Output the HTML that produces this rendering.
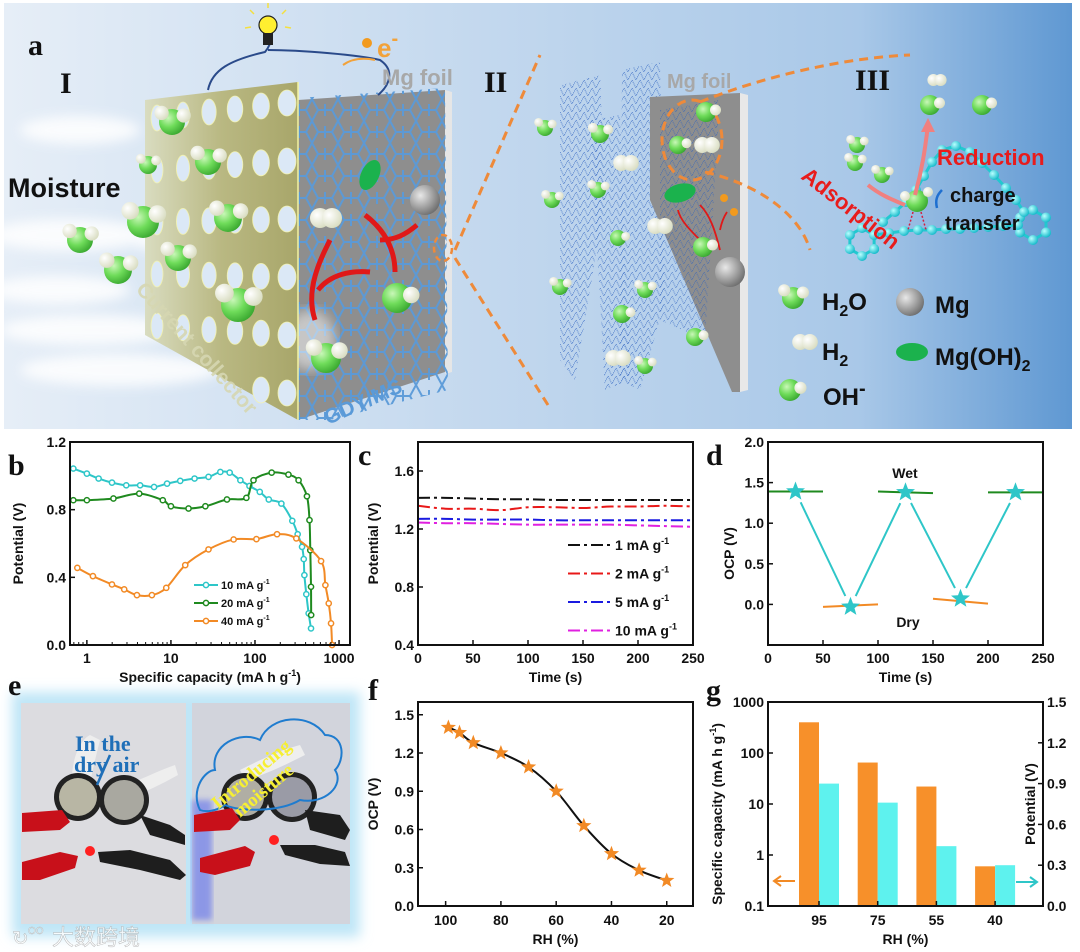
<!DOCTYPE html>
<html><head><meta charset="utf-8">
<style>
html,body{margin:0;padding:0;background:#fff;}
svg{display:block;font-family:"Liberation Sans",sans-serif;}
.tk{font-weight:bold;font-size:14px;fill:#111;}
.ttl{font-weight:bold;font-size:14px;fill:#111;}
.pl{font-family:"Liberation Serif",serif;font-weight:bold;font-size:30px;fill:#111;}
</style></head>
<body>
<svg id="fig" width="1080" height="952" viewBox="0 0 1080 952" xmlns="http://www.w3.org/2000/svg">
<defs>
<linearGradient id="bgA" x1="0" x2="1" y1="0" y2="0">
<stop offset="0" stop-color="#e6eef7"/><stop offset="0.45" stop-color="#c3d8ee"/><stop offset="0.8" stop-color="#a9c8e8"/><stop offset="1" stop-color="#5f98d2"/></linearGradient>
<linearGradient id="olive" x1="0" x2="1"><stop offset="0" stop-color="#d9dcc0"/><stop offset="0.5" stop-color="#b9b882"/><stop offset="1" stop-color="#a8a66a"/></linearGradient>
<radialGradient id="gSph" cx="0.35" cy="0.35" r="0.7"><stop offset="0" stop-color="#c9f7b8"/><stop offset="0.5" stop-color="#6fdc5a"/><stop offset="1" stop-color="#3aa830"/></radialGradient>
<radialGradient id="wSph" cx="0.35" cy="0.35" r="0.7"><stop offset="0" stop-color="#ffffff"/><stop offset="1" stop-color="#d8dcc0"/></radialGradient>
<radialGradient id="mgSph" cx="0.35" cy="0.35" r="0.7"><stop offset="0" stop-color="#e8e8e8"/><stop offset="1" stop-color="#6e6e6e"/></radialGradient>
<radialGradient id="cySph" cx="0.35" cy="0.35" r="0.7"><stop offset="0" stop-color="#b8ffff"/><stop offset="1" stop-color="#10b8c8"/></radialGradient>
<pattern id="hexmesh" width="26" height="22" patternUnits="userSpaceOnUse">
<path d="M0 11 L6 0 L20 0 L26 11 L20 22 L6 22 Z M13 0 L13 6 M13 22 L13 16" fill="none" stroke="#5a9ad8" stroke-width="2"/></pattern>
<pattern id="dotmesh" width="8" height="8" patternUnits="userSpaceOnUse">
<path d="M0 0 L4 8 L8 0" fill="none" stroke="#2a5fc0" stroke-width="0.8" stroke-dasharray="1 1"/></pattern>
<filter id="blur6"><feGaussianBlur stdDeviation="6"/></filter>
<filter id="blur3"><feGaussianBlur stdDeviation="3"/></filter>
</defs>

<!-- ================= PANEL A ================= -->
<g>
<rect x="4" y="3" width="1068" height="426" fill="url(#bgA)"/>
<g filter="url(#blur6)" opacity="0.85">
<ellipse cx="80" cy="130" rx="60" ry="14" fill="#fff"/>
<ellipse cx="70" cy="235" rx="80" ry="16" fill="#fff"/>
<ellipse cx="60" cy="290" rx="70" ry="14" fill="#fff"/>
<ellipse cx="90" cy="330" rx="90" ry="15" fill="#fff"/>
<ellipse cx="120" cy="370" rx="100" ry="16" fill="#fff"/>
<ellipse cx="190" cy="240" rx="60" ry="14" fill="#fff"/>
</g>
<text class="pl" x="28" y="55">a</text>
<text class="pl" x="60" y="93" font-size="28">I</text>
<text class="pl" x="484" y="92" font-size="28">II</text>
<text class="pl" x="855" y="90" font-size="28">III</text>

<polygon points="298,100 445,90 445,372 298,420" fill="#8e8e8e"/>
<polygon points="445,90 452,92 452,372 445,374" fill="#e6e6e6"/>
<polygon points="298,98 445,88 448,390 330,420 298,420" fill="url(#hexmesh)" opacity="0.95"/>
<ellipse cx="310" cy="340" rx="25" ry="30" fill="#fff" opacity="0.5" filter="url(#blur6)"/>
<polygon points="145,100 298,82 298,420 145,335" fill="url(#olive)"/>
<line x1="298" y1="82" x2="298" y2="420" stroke="#f4f4a0" stroke-width="1.5"/>
<g id="holes"></g>
<path d="M208,90 C212,70 230,60 265,52 C275,40 270,30 268,25" fill="none" stroke="#2a4a8a" stroke-width="2"/>
<path d="M268,50 C300,50 360,55 380,60 C395,70 390,85 378,95" fill="none" stroke="#2a4a8a" stroke-width="2"/>
<g>
<circle cx="268" cy="25" r="9" fill="#ffef30" stroke="#222" stroke-width="1.2"/>
<rect x="263" y="33" width="10" height="12" fill="#222"/>
<g stroke="#f4e040" stroke-width="1.5"><line x1="268" y1="8" x2="268" y2="3"/><line x1="254" y1="14" x2="250" y2="10"/><line x1="282" y1="14" x2="286" y2="10"/><line x1="251" y1="27" x2="245" y2="28"/><line x1="285" y1="27" x2="291" y2="28"/></g>
</g>
<circle cx="367" cy="43" r="5" fill="#f29a1e"/>
<text x="377" y="57" font-size="26" font-weight="bold" fill="#f2a23a">e<tspan font-size="20" dy="-12">-</tspan></text>
<path d="M375,60 C360,57 350,60 343,65" fill="none" stroke="#f2a23a" stroke-width="2"/>
<text x="382" y="85" font-size="22" font-weight="bold" fill="#a8a8a8">Mg foil</text>
<text x="8" y="197" font-size="27" font-weight="bold" fill="#111">Moisture</text>
<text transform="translate(135,290) rotate(48)" font-size="21" font-weight="bold" fill="#d6d7b2" opacity="0.9">Current collector</text>
<text transform="translate(328,425) rotate(-24)" font-size="21" font-weight="bold" fill="#5a9ad8">GDY/MS</text>
<ellipse cx="370" cy="175" rx="9" ry="16" transform="rotate(25 370 175)" fill="#1bb24d"/>
<circle cx="425" cy="200" r="15" fill="url(#mgSph)"/>
<g fill="none" stroke="#e01818" stroke-width="5">
<path d="M315,320 C305,290 320,260 330,240"/><path d="M318,290 C330,275 350,270 370,272"/><path d="M395,272 C395,250 385,230 365,215"/><path d="M417,225 C405,235 395,240 380,240"/>
</g>
<g id="molA"></g>
<path d="M455,250 L540,55" stroke="#ee8a3a" stroke-width="3" stroke-dasharray="9 6" fill="none"/>
<path d="M455,258 L548,405" stroke="#ee8a3a" stroke-width="3" stroke-dasharray="9 6" fill="none"/>
<ellipse cx="443" cy="248" rx="9" ry="13" fill="none" stroke="#ee8a3a" stroke-width="2.5" stroke-dasharray="6 4"/>

<polygon points="560,85 600,75 605,200 575,380 560,360" fill="url(#dotmesh)" opacity="0.9"/>
<polygon points="590,120 620,115 630,380 605,390" fill="url(#dotmesh)" opacity="0.9"/>
<polygon points="622,70 660,62 665,300 640,390 620,380" fill="url(#dotmesh)" opacity="0.9"/>
<polygon points="650,97 740,93 740,392 732,392 650,200" fill="#8e8e8e"/>
<polygon points="740,93 748,95 748,390 740,392" fill="#e8e8e8"/>
<polygon points="660,110 720,100 705,340 660,320" fill="url(#dotmesh)" opacity="0.8"/>
<text x="667" y="88" font-size="20" font-weight="bold" fill="#a8a8a8">Mg foil</text>
<ellipse cx="692" cy="140" rx="30" ry="40" fill="none" stroke="#ee8a3a" stroke-width="3" stroke-dasharray="9 6"/>
<path d="M700,102 C780,70 860,57 910,55" stroke="#ee8a3a" stroke-width="3" stroke-dasharray="9 6" fill="none"/>
<path d="M705,172 C760,185 800,215 810,250" stroke="#ee8a3a" stroke-width="3" stroke-dasharray="9 6" fill="none"/>
<ellipse cx="680" cy="193" rx="16" ry="9" transform="rotate(-15 680 193)" fill="#1bb24d"/>
<circle cx="730" cy="272" r="15" fill="url(#mgSph)"/>
<circle cx="724" cy="198" r="4" fill="#f29a1e"/><circle cx="734" cy="212" r="4" fill="#f29a1e"/>
<g fill="none" stroke="#e01818" stroke-width="1.8"><path d="M700,240 C690,230 680,220 678,210"/><path d="M720,250 C715,230 710,215 700,205"/><path d="M720,230 C722,220 725,215 727,212"/></g>

<g id="ringIII"></g>
<path d="M868,185 C880,195 893,200 905,205" fill="none" stroke="#f08080" stroke-width="4"/>
<path d="M915,195 C922,170 925,150 928,125" fill="none" stroke="#f08080" stroke-width="4"/>
<polygon points="928,118 921,132 935,132" fill="#f08080"/>
<path d="M937,208 C935,200 937,195 942,190" fill="none" stroke="#1e6fd0" stroke-width="2.5"/>
<text x="937" y="165" font-size="22" font-weight="bold" fill="#e81c1c">Reduction</text>
<text transform="translate(800,178) rotate(38)" font-size="22" font-weight="bold" fill="#e81c1c">Adsorption</text>
<text x="950" y="202" font-size="20" font-weight="bold" fill="#111">charge</text>
<text x="945" y="230" font-size="20" font-weight="bold" fill="#111">transfer</text>
<g id="molB"></g>

<g>
<text x="822" y="310" font-size="24" font-weight="bold" fill="#111">H<tspan font-size="16" dy="6">2</tspan><tspan dy="-6">O</tspan></text>
<text x="822" y="360" font-size="24" font-weight="bold" fill="#111">H<tspan font-size="16" dy="6">2</tspan></text>
<text x="823" y="405" font-size="24" font-weight="bold" fill="#111">OH<tspan font-size="20" dy="-10">-</tspan></text>
<circle cx="910" cy="302" r="14" fill="url(#mgSph)"/>
<text x="935" y="313" font-size="24" font-weight="bold" fill="#111">Mg</text>
<ellipse cx="912" cy="352" rx="16" ry="9" fill="#1bb24d"/>
<text x="935" y="365" font-size="24" font-weight="bold" fill="#111">Mg(OH)<tspan font-size="16" dy="6">2</tspan></text>
</g>
</g>

<g id="chartB"></g>
<g id="chartC"></g>
<g id="chartD"></g>
<g id="chartF"></g>
<g id="chartG"></g>

<g>
<rect x="12" y="692" width="348" height="245" fill="#bfe6f7" filter="url(#blur6)"/>
<rect x="21" y="703" width="165" height="221" fill="#dcdce0"/>
<rect x="192" y="703" width="158" height="221" fill="#d2d4dc"/>
<rect x="192" y="800" width="20" height="120" fill="#4a5cf0" opacity="0.5" filter="url(#blur3)"/>
<g>
<path d="M72,790 C70,760 80,740 90,735 L100,740 C95,760 90,780 88,795 Z" fill="#eeeeee"/>
<path d="M115,790 C140,780 160,770 175,765 L178,775 C160,785 140,795 120,800 Z" fill="#eeeeee"/>
<circle cx="78" cy="797" r="24" fill="#222"/><circle cx="78" cy="797" r="19" fill="#b8b6a4"/>
<circle cx="124" cy="800" r="25" fill="#222"/><circle cx="124" cy="800" r="20" fill="#a9a8a0"/>
<path d="M22,813 L62,810 L70,822 L60,830 L22,832 Z" fill="#c8101a"/>
<path d="M140,815 L170,825 L185,835 L185,845 L150,835 Z" fill="#1e1e1e"/>
<path d="M22,862 L60,852 L78,856 L75,868 L40,880 L22,880 Z" fill="#c8101a"/>
<path d="M98,852 L130,850 L170,860 L186,875 L180,880 L140,870 L100,862 Z" fill="#1e1e1e"/>
<circle cx="90" cy="851" r="5" fill="#ff2020"/>
<text x="75" y="751" font-family="Liberation Serif,serif" font-weight="bold" font-size="22" fill="#1f6fb8">In the</text>
<text x="74" y="772" font-family="Liberation Serif,serif" font-weight="bold" font-size="22" fill="#1f6fb8">dry air</text>
<path d="M97,785 L110,755" stroke="#1f6fb8" stroke-width="2.5"/>
</g>
<g>
<path d="M240,770 C260,760 280,750 300,745 L305,755 C285,765 265,775 245,780 Z" fill="#eeeeee"/>
<circle cx="245" cy="797" r="24" fill="#222"/><circle cx="245" cy="797" r="19" fill="#b0aea4"/>
<circle cx="292" cy="797" r="25" fill="#222"/><circle cx="292" cy="797" r="20" fill="#9a9ba6"/>
<path d="M194,815 L232,808 L240,820 L230,830 L194,832 Z" fill="#c8101a"/>
<path d="M305,810 L340,815 L350,830 L345,840 L310,830 Z" fill="#1e1e1e"/>
<path d="M200,858 L245,846 L255,852 L250,866 L215,875 L200,872 Z" fill="#c8101a"/>
<path d="M280,845 L315,845 L345,852 L350,866 L320,864 L285,855 Z" fill="#1e1e1e"/>
<circle cx="274" cy="840" r="5" fill="#ff2020"/>
<path d="M200,810 C190,790 205,770 215,770 C210,745 240,730 260,740 C270,715 310,712 325,735 C345,735 345,760 335,770 C345,785 325,805 300,800 C280,812 240,812 225,805 C215,812 205,812 200,810 Z" fill="none" stroke="#1f7ccf" stroke-width="2"/>
<text transform="translate(218,810) rotate(-40)" font-family="Liberation Serif,serif" font-weight="bold" font-size="19" fill="#f6ef32">Introducing</text>
<text transform="translate(240,818) rotate(-40)" font-family="Liberation Serif,serif" font-weight="bold" font-size="19" fill="#f6ef32">moisture</text>
</g>
<text class="pl" x="8" y="695">e</text>
<g opacity="0.8">
<text x="12" y="945" font-size="20" fill="#fff" stroke="#aaa" stroke-width="0.5">↻</text>
<text x="28" y="934" font-size="10" fill="#fff" stroke="#aaa" stroke-width="0.4">OO</text>
<text x="52" y="945" font-family="Liberation Sans,'Noto Sans CJK SC',sans-serif" font-size="22" fill="#fff" stroke="#aaa" stroke-width="0.5">大数跨境</text>
</g>
</g>
</svg>

<script>
const bCap10 = [0.69,1,1.38,1.99,2.94,4.3,6.3,9,12.9,19.1,28,38.7,50,67,86,114,146,206,278,322,363,380,387,408,435,464];
const bPot10 = [1.043,1.013,0.984,0.96,0.944,0.944,0.934,0.954,0.97,0.984,0.994,1.023,1.019,0.974,0.94,0.905,0.86,0.836,0.734,0.655,0.58,0.508,0.413,0.3,0.187,0.098];
const bCap20 = [0.69,1,2.07,4.2,8.0,10,16.2,25.7,46.4,79,96,158,250,330,415,445,455,464,466];
const bPot20 = [0.856,0.856,0.866,0.895,0.856,0.82,0.807,0.82,0.86,0.87,0.974,1.019,1.007,0.974,0.879,0.738,0.56,0.344,0.177];
const bCap40 = [0.77,1.18,1.99,2.78,3.94,5.94,8.8,14.8,28,55.7,104,183,310,611,688,754,803,826];
const bPot40 = [0.456,0.407,0.358,0.329,0.295,0.295,0.338,0.472,0.565,0.624,0.626,0.655,0.63,0.496,0.354,0.246,0.128,0.0];
const bXTicks = [1,10,100,1000];
const bYTicks = [0.0,0.4,0.8,1.2];
const bLegend = ["10 mA g","20 mA g","40 mA g"];

const cTime = [0,25,50,75,100,125,150,175,200,225,250];
const c1 = [1.415,1.415,1.41,1.405,1.405,1.40,1.40,1.40,1.40,1.40,1.40];
const c2 = [1.36,1.34,1.34,1.33,1.35,1.35,1.345,1.355,1.355,1.36,1.355];
const c5 = [1.27,1.27,1.265,1.265,1.265,1.26,1.26,1.26,1.26,1.26,1.26];
const c10 = [1.245,1.24,1.24,1.235,1.23,1.23,1.23,1.23,1.225,1.22,1.215];
const cXTicks = [0,50,100,150,200,250];
const cYTicks = [0.4,0.8,1.2,1.6];
const cLegend = ["1 mA g","2 mA g","5 mA g","10 mA g"];

const dWetT = [[0,50],[100,150],[200,250]];
const dWetV = [[1.39,1.39],[1.39,1.37],[1.38,1.38]];
const dDryT = [[50,100],[150,200]];
const dDryV = [[-0.03,0.0],[0.07,0.01]];
const dStarT = [25,75,125,175,225];
const dStarV = [1.39,-0.03,1.38,0.07,1.38];
const dXTicks = [0,50,100,150,200,250];
const dYTicks = [0.0,0.5,1.0,1.5,2.0];

const fRH = [99,95,90,80,70,60,50,40,30,20];
const fOCP = [1.40,1.36,1.28,1.20,1.09,0.90,0.63,0.41,0.28,0.20];
const fXTicks = [100,80,60,40,20];
const fYTicks = [0.0,0.3,0.6,0.9,1.2,1.5];

const gRH = ["95","75","55","40"];
const gCap = [400,65,22,0.6];
const gPot = [0.90,0.76,0.44,0.30];
const gYTicksL = [0.1,1,10,100,1000];
const gYTickLabelsL = ["0.1","1","10","100","1000"];
const gYTicksR = [0.0,0.3,0.6,0.9,1.2,1.5];

const NS = "http://www.w3.org/2000/svg";
function mk(tag, attrs, parent){ const e=document.createElementNS(NS,tag); for(const k in attrs) e.setAttribute(k,attrs[k]); parent.appendChild(e); return e; }
function linScale(d0,d1,r0,r1){ return v=>r0+(v-d0)/(d1-d0)*(r1-r0); }
function logScale(d0,d1,r0,r1){ return v=>r0+(Math.log10(v)-Math.log10(d0))/(Math.log10(d1)-Math.log10(d0))*(r1-r0); }
function frame(g,x0,y0,x1,y1){ const r=mk('rect',{x:x0,y:y0,width:x1-x0,height:y1-y0,fill:'none',stroke:'#111','stroke-width':2},g);   }
function txt(g,x,y,s,cls,anchor){ const t=mk('text',{x:x,y:y,'class':cls,'text-anchor':anchor||'middle'},g); t.textContent=s; return t; }
function starPath(cx,cy,R){ let d=''; for(let i=0;i<10;i++){ const r=i%2?R*0.42:R; const a=-Math.PI/2+i*Math.PI/5; d+=(i?'L':'M')+(cx+r*Math.cos(a)).toFixed(1)+','+(cy+r*Math.sin(a)).toFixed(1);} return d+'Z'; }
function smooth(pts){ let d='M'+pts[0][0]+','+pts[0][1]; for(let i=0;i<pts.length-1;i++){ const p0=pts[i-1]||pts[i],p1=pts[i],p2=pts[i+1],p3=pts[i+2]||p2; const c1x=p1[0]+(p2[0]-p0[0])/6,c1y=p1[1]+(p2[1]-p0[1])/6,c2x=p2[0]-(p3[0]-p1[0])/6,c2y=p2[1]-(p3[1]-p1[1])/6; d+=`C${c1x},${c1y} ${c2x},${c2y} ${p2[0]},${p2[1]}`;} return d; }

(function(){
 const h=document.getElementById('holes');
 for(let c=0;c<6;c++){ for(let r=0;r<6;r++){
   const x=157+c*26, y=118+r*52 - c*3 + (c*r*1.2);
   if(y>330+ c*16) continue;
   const e=mk('ellipse',{cx:x,cy:y,rx:6+c*0.6,ry:13,fill:'#dbe8f6',stroke:'#f2f2b0','stroke-width':0.8},h);
    
 }}
 function water(g,x,y,r){ const m=mk('g',{},g);  
   mk('circle',{cx:x,cy:y,r:r,fill:'url(#gSph)'},m); mk('circle',{cx:x-r*0.8,cy:y-r*0.7,r:r*0.55,fill:'url(#wSph)'},m); mk('circle',{cx:x+r*0.9,cy:y-r*0.5,r:r*0.55,fill:'url(#wSph)'},m); }
 function h2(g,x,y,r){ const m=mk('g',{},g);  
   mk('circle',{cx:x-r*0.6,cy:y,r:r,fill:'url(#wSph)'},m); mk('circle',{cx:x+r*0.6,cy:y,r:r,fill:'url(#wSph)'},m); }
 function oh(g,x,y,r){ const m=mk('g',{},g);  
   mk('circle',{cx:x,cy:y,r:r,fill:'url(#gSph)'},m); mk('circle',{cx:x+r*0.95,cy:y-r*0.2,r:r*0.55,fill:'url(#wSph)'},m); }
 const A=document.getElementById('molA');
 [[172,122,13],[148,165,9],[208,162,13],[80,240,13],[143,222,16],[228,218,14],[118,270,14],[178,258,13],[238,305,17],[326,358,15]].forEach(p=>water(A,...p));
 h2(A,326,218,10); oh(A,397,298,15);
 const B=document.getElementById('molB');
 [[545,128,8],[600,134,9],[552,200,8],[598,190,8],[560,287,8],[645,290,8],[645,366,8]].forEach(p=>water(B,...p));
 h2(B,626,163,8); h2(B,618,358,8); h2(B,660,226,8); h2(B,707,145,8);
 oh(B,706,112,10); oh(B,678,145,9); oh(B,618,238,8); oh(B,622,314,9); oh(B,703,247,10); oh(B,695,337,9);
 [[857,145,8],[855,163,8],[882,175,8]].forEach(p=>water(B,...p));
 h2(B,937,80,6); oh(B,930,105,10); oh(B,982,105,10);
 water(B,793,298,11); h2(B,805,342,8); oh(B,790,390,11);
 const R=document.getElementById('ringIII');
 function chain(pts){
   pts.forEach((p,i)=>{ if(i) mk('line',{x1:pts[i-1][0],y1:pts[i-1][1],x2:p[0],y2:p[1],stroke:'#22c8d0','stroke-width':3},R); });
   pts.forEach(p=>{ const c=mk('circle',{cx:p[0],cy:p[1],r:5,fill:'url(#cySph)'},R);   });
 }
 function hexRing(cx,cy,r){ const p=[]; for(let i=0;i<=6;i++){ const a=Math.PI/6+i*Math.PI/3; p.push([cx+r*Math.cos(a),cy+r*Math.sin(a)]); } chain(p); }
 hexRing(862,242,14); hexRing(1033,225,15);
 chain([[874,235],[889,233],[904,231],[918,230],[932,230],[946,229],[960,229],[974,228],[988,227],[1003,226],[1018,225]]);
 chain([[883,222],[895,212],[906,202],[916,190],[924,176],[932,162],[942,150],[956,146],[970,152],[982,163],[994,175],[1006,188],[1016,200],[1024,212]]);
 mk('circle',{cx:917,cy:201,r:11,fill:'url(#gSph)'},R);
 mk('circle',{cx:905,cy:196,r:5,fill:'url(#wSph)'},R); mk('circle',{cx:928,cy:192,r:5,fill:'url(#wSph)'},R);
 mk('line',{x1:913,y1:212,x2:908,y2:230,stroke:'#d02040','stroke-width':1.5,'stroke-dasharray':'2 2'},R);
 mk('line',{x1:921,y1:212,x2:926,y2:230,stroke:'#d02040','stroke-width':1.5,'stroke-dasharray':'2 2'},R);
})();

(function(){
 const g=document.getElementById('chartB');
 const X0=70,X1=350,Y0=442,Y1=645;
 const x=logScale(0.63,1350,X0,X1), y=linScale(0,1.2,Y1,Y0);
 const series=[[bCap10,bPot10,'#2ec6c8'],[bCap20,bPot20,'#1f8a1f'],[bCap40,bPot40,'#f28a25']];
 series.forEach((s,si)=>{
   const pts=s[0].map((v,i)=>[x(v),y(s[1][i])]);
   const p=mk('path',{d:smooth(pts),fill:'none',stroke:s[2],'stroke-width':2},g);
   
   
   pts.forEach(q=>{ const c=mk('circle',{cx:q[0],cy:q[1],r:2.6,fill:'#fff',stroke:s[2],'stroke-width':1.5},g);
       });
 });
 frame(g,X0,Y0,X1,Y1);
 bXTicks.forEach(v=>{ mk('line',{x1:x(v),y1:Y1,x2:x(v),y2:Y1-5,stroke:'#111','stroke-width':1.5},g);
   const t=txt(g,x(v),Y1+18,String(v),'tk');   });
 for(let d=0;d<4;d++) for(let k=2;k<10;k++){ const v=k*Math.pow(10,d-1); if(x(v)>X0&&x(v)<X1) mk('line',{x1:x(v),y1:Y1,x2:x(v),y2:Y1-3,stroke:'#111','stroke-width':1},g); }
 bYTicks.forEach(v=>{ mk('line',{x1:X0,y1:y(v),x2:X0+5,y2:y(v),stroke:'#111','stroke-width':1.5},g);
   const t=txt(g,X0-4,y(v)+5,v.toFixed(1),'tk','end');   });
 const xt=txt(g,(X0+X1)/2,682,'','ttl'); xt.innerHTML='Specific capacity (mA h g<tspan font-size="9" dy="-6">-1</tspan><tspan dy="6">)</tspan>';
  
 const yt=mk('text',{transform:`translate(23,${(Y0+Y1)/2}) rotate(-90)`,'class':'ttl','text-anchor':'middle'},g); yt.textContent='Potential (V)';
  
 const pl=txt(g,8,475,'b','pl','start');  
 series.forEach((s,i)=>{ const ly=585+i*18;
   const lg=mk('g',{},g);  
   mk('line',{x1:194,y1:ly,x2:218,y2:ly,stroke:s[2],'stroke-width':2},lg);
   mk('circle',{cx:206,cy:ly,r:2.6,fill:'#fff',stroke:s[2],'stroke-width':1.5},lg);
   const t=mk('text',{x:221,y:ly+4,'font-size':11,'font-weight':'bold',fill:'#111'},lg); t.innerHTML=bLegend[i]+'<tspan font-size="7" dy="-5">-1</tspan>'; });
})();

(function(){
 const g=document.getElementById('chartC');
 const X0=418,X1=693,Y0=442,Y1=645;
 const x=linScale(0,250,X0,X1), y=linScale(0.4,1.8,Y1,Y0);
 const cols=['#111','#e81818','#1a1ae0','#e020e0'];
 [c1,c2,c5,c10].forEach((s,si)=>{
   const pts=cTime.map((t,i)=>[x(t),y(s[i])]);
   const p=mk('path',{d:smooth(pts),fill:'none',stroke:cols[si],'stroke-width':2,'stroke-dasharray':'12 4 3 4'},g);
   
   
 });
 frame(g,X0,Y0,X1,Y1);
 cXTicks.forEach(v=>{ mk('line',{x1:x(v),y1:Y1,x2:x(v),y2:Y1-5,stroke:'#111','stroke-width':1.5},g);
   const t=txt(g,x(v),Y1+18,String(v),'tk');   });
 cYTicks.forEach(v=>{ mk('line',{x1:X0,y1:y(v),x2:X0+5,y2:y(v),stroke:'#111','stroke-width':1.5},g);
   const t=txt(g,X0-4,y(v)+5,v.toFixed(1),'tk','end');   });
 const xt=txt(g,(X0+X1)/2,682,'Time (s)','ttl');  
 const yt=mk('text',{transform:`translate(378,${(Y0+Y1)/2}) rotate(-90)`,'class':'ttl','text-anchor':'middle'},g); yt.textContent='Potential (V)';
  
 const pl=txt(g,358,465,'c','pl','start');  
 cols.forEach((c,i)=>{ const ly=545+i*28.5;
   const lg=mk('g',{},g);  
   mk('line',{x1:568,y1:ly,x2:613,y2:ly,stroke:c,'stroke-width':2,'stroke-dasharray':'12 4 3 4'},lg);
   const t=mk('text',{x:615,y:ly+5,'font-size':14,'font-weight':'bold',fill:'#111'},lg); t.innerHTML=cLegend[i]+'<tspan font-size="9" dy="-6">-1</tspan>'; });
})();

(function(){
 const g=document.getElementById('chartD');
 const X0=768,X1=1043,Y0=442,Y1=645;
 const x=linScale(0,250,X0,X1), y=linScale(-0.5,2.0,Y1,Y0);
 for(let i=0;i<dStarT.length-1;i++){
   const ax=x(dStarT[i]),ay=y(dStarV[i]),bx=x(dStarT[i+1]),by=y(dStarV[i+1]);
   const dx=bx-ax,dy=by-ay,L=Math.hypot(dx,dy),u=12/L;
   const l=mk('line',{x1:ax+dx*u,y1:ay+dy*u,x2:bx-dx*u,y2:by-dy*u,stroke:'#2ec6c8','stroke-width':2},g);
    
 }
 dWetT.forEach((t,i)=>{ const l=mk('line',{x1:x(t[0]),y1:y(dWetV[i][0]),x2:x(t[1]),y2:y(dWetV[i][1]),stroke:'#1f8a1f','stroke-width':2},g);
     });
 dDryT.forEach((t,i)=>{ const l=mk('line',{x1:x(t[0]),y1:y(dDryV[i][0]),x2:x(t[1]),y2:y(dDryV[i][1]),stroke:'#f28a25','stroke-width':2},g);
     });
 dStarT.forEach((t,i)=>{ const s=mk('path',{d:starPath(x(t),y(dStarV[i]),10),fill:'#2ec6c8'},g);
     });
 frame(g,X0,Y0,X1,Y1);
 dXTicks.forEach(v=>{ mk('line',{x1:x(v),y1:Y1,x2:x(v),y2:Y1-5,stroke:'#111','stroke-width':1.5},g);
   const t=txt(g,x(v),Y1+18,String(v),'tk');   });
 dYTicks.forEach(v=>{ mk('line',{x1:X0,y1:y(v),x2:X0+5,y2:y(v),stroke:'#111','stroke-width':1.5},g);
   const t=txt(g,X0-4,y(v)+5,v.toFixed(1),'tk','end');   });
 const xt=txt(g,(X0+X1)/2,682,'Time (s)','ttl');  
 const yt=mk('text',{transform:`translate(734,${(Y0+Y1)/2+10}) rotate(-90)`,'class':'ttl','text-anchor':'middle'},g); yt.textContent='OCP (V)';
  
 const w=txt(g,905,478,'Wet','ttl'); w.setAttribute('fill','#1f8a1f');  
 const d=txt(g,908,627,'Dry','ttl'); d.setAttribute('fill','#f28a25');  
 const pl=txt(g,706,465,'d','pl','start');  
})();

(function(){
 const g=document.getElementById('chartF');
 const X0=418,X1=693,Y0=702,Y1=906;
 const x=linScale(110,10.5,X0,X1), y=linScale(0,1.6,Y1,Y0);
 const pts=fRH.map((v,i)=>[x(v),y(fOCP[i])]);
 const p=mk('path',{d:smooth(pts),fill:'none',stroke:'#111','stroke-width':2},g);
  
 pts.forEach(q=>{ const s=mk('path',{d:starPath(q[0],q[1],8),fill:'#f28a25'},g);
     });
 frame(g,X0,Y0,X1,Y1);
 fXTicks.forEach(v=>{ mk('line',{x1:x(v),y1:Y1,x2:x(v),y2:Y1-5,stroke:'#111','stroke-width':1.5},g);
   const t=txt(g,x(v),Y1+19,String(v),'tk');   });
 fYTicks.forEach(v=>{ mk('line',{x1:X0,y1:y(v),x2:X0+5,y2:y(v),stroke:'#111','stroke-width':1.5},g);
   const t=txt(g,X0-4,y(v)+5,v.toFixed(1),'tk','end');   });
 const xt=txt(g,(X0+X1)/2,944,'RH (%)','ttl');  
 const yt=mk('text',{transform:`translate(378,${(Y0+Y1)/2}) rotate(-90)`,'class':'ttl','text-anchor':'middle'},g); yt.textContent='OCP (V)';
  
 const pl=txt(g,368,700,'f','pl','start');  
})();

(function(){
 const g=document.getElementById('chartG');
 const X0=768,X1=1043,Y0=702,Y1=906;
 const yl=logScale(0.1,1000,Y1,Y0), yr=linScale(0,1.5,Y1,Y0);
 const cx=i=>819+i*58.7;
 gRH.forEach((r,i)=>{
   const o=mk('rect',{x:cx(i)-20,y:yl(gCap[i]),width:20,height:Y1-yl(gCap[i]),fill:'#f7902a'},g);
    
   const c=mk('rect',{x:cx(i),y:yr(gPot[i]),width:20,height:Y1-yr(gPot[i]),fill:'#5ef2ee'},g);
    
   mk('line',{x1:cx(i),y1:Y1,x2:cx(i),y2:Y1-5,stroke:'#111','stroke-width':1.5},g);
   const t=txt(g,cx(i),Y1+19,r,'tk');  
 });
 frame(g,X0,Y0,X1,Y1);
 gYTicksL.forEach((v,i)=>{ mk('line',{x1:X0,y1:yl(v),x2:X0+5,y2:yl(v),stroke:'#111','stroke-width':1.5},g);
   const t=txt(g,X0-4,yl(v)+5,gYTickLabelsL[i],'tk','end');   });
 gYTicksR.forEach(v=>{ mk('line',{x1:X1,y1:yr(v),x2:X1-5,y2:yr(v),stroke:'#111','stroke-width':1.5},g);
   const t=txt(g,X1+4,yr(v)+5,v.toFixed(1),'tk','start');   });
 const xt=txt(g,(X0+X1)/2,944,'RH (%)','ttl');  
 const yt=mk('text',{transform:`translate(722,${(Y0+Y1)/2+10}) rotate(-90)`,'class':'ttl','text-anchor':'middle'},g);
 yt.innerHTML='Specific capacity (mA h g<tspan font-size="9" dy="-6">-1</tspan><tspan dy="6">)</tspan>';
  
 const yt2=mk('text',{transform:`translate(1035,${(Y0+Y1)/2}) rotate(-90)`,'class':'ttl','text-anchor':'middle'},g); yt2.textContent='Potential (V)';
  
 const a1=mk('path',{d:'M795,881 L775,881 M781,876 L774,881 L781,886',stroke:'#f28a25','stroke-width':2,fill:'none'},g);
  
 const a2=mk('path',{d:'M1016,882 L1036,882 M1030,877 L1037,882 L1030,887',stroke:'#2ec6c8','stroke-width':2,fill:'none'},g);
  
 const pl=txt(g,706,700,'g','pl','start');  
})();
</script>
</body></html>
